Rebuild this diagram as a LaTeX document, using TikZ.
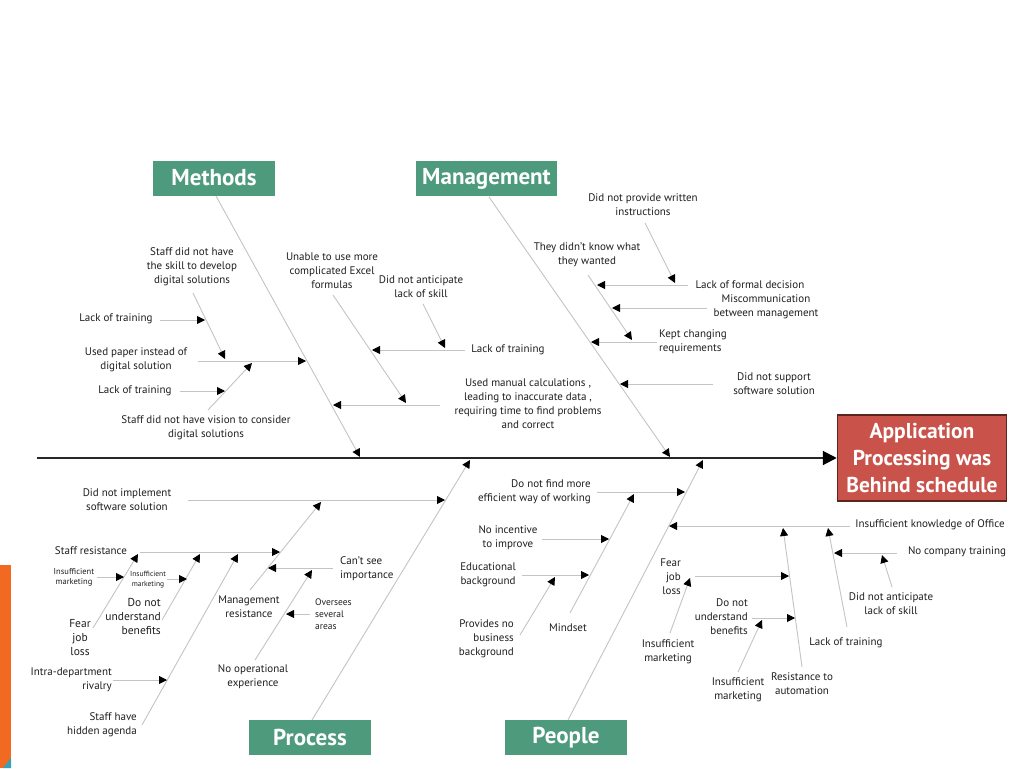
\documentclass[tikz,border=0pt]{standalone}
\usepackage{fontspec}
\setmainfont{PT Sans}
\usetikzlibrary{arrows.meta}
\definecolor{catgreen}{HTML}{4E9A7C}
\definecolor{effred}{HTML}{C9524A}
\definecolor{effborder}{HTML}{5A2420}
\definecolor{barorange}{HTML}{F26A21}
\definecolor{barteal}{HTML}{3AA0B5}
\definecolor{bonegray}{HTML}{C4C4C4}
\begin{document}
\begin{tikzpicture}[x=1pt,y=-1pt,
  lbl/.style={font=\fontsize{11}{14}\selectfont, align=center, inner sep=0pt, text=black!88},
  big/.style={font=\fontsize{11.5}{14}\selectfont, inner sep=0pt, text=black!88},
  small/.style={font=\fontsize{9.5}{12}\selectfont, inner sep=0pt, text=black!88},
  tinyA/.style={font=\fontsize{8.5}{10}\selectfont, align=center, inner sep=0pt, text=black!88},
  tinyB/.style={font=\fontsize{7.5}{10}\selectfont, align=center, inner sep=0pt, text=black!88},
  cat/.style={fill=catgreen, text=white, font=\fontsize{23}{26}\selectfont\bfseries, minimum height=35pt, inner sep=0pt},
  effect/.style={fill=effred, draw=effborder, line width=1.5pt, text=white, font=\fontsize{21.5}{26.5}\selectfont\bfseries, align=center, minimum width=169pt, minimum height=86pt, inner sep=0pt},
  bone/.style={draw=bonegray, line width=0.9pt, -{Triangle[length=8pt,width=8pt,color=black]}},
  spine/.style={draw=black!85, line width=2pt, -{Triangle[length=14pt,width=14pt,color=black]}}
]
\useasboundingbox (0,0) rectangle (1024,768);
\fill[white] (0,0) rectangle (1024,768);
\fill[barorange] (0,565) rectangle (11,768);
\fill[barteal] (3,768) -- (11,768) -- (11,758) -- cycle;

% ---------- effect and spine ----------
\node[effect] (eff) at (922,458) {Application\\Processing was\\Behind schedule};
\coordinate (sp0) at (37,458);
\draw[spine] (sp0) -- (eff.west);

% ---------- category boxes ----------
\node[cat, minimum width=122pt] (meth) at (214,178) {Methods};
\node[cat, minimum width=141pt] (mgmt) at (486.5,178.5) {Management};
\node[cat, minimum width=122pt] (proc) at (310,737.5) {Process};
\node[cat, minimum width=122pt] (peop) at (566,737.5) {People};

% ---------- main bones ----------
\coordinate (mb0) at (216,196);   \coordinate (mb1) at (360,457);
\coordinate (gb0) at (489,197);   \coordinate (gb1) at (670,457);
\coordinate (pb0) at (312,720);   \coordinate (pb1) at (470,460);
\coordinate (eb0) at (568,720);   \coordinate (eb1) at (703,460);
\draw[bone] (mb0) -- (mb1);
\draw[bone] (gb0) -- (gb1);
\draw[bone] (pb0) -- (pb1);
\draw[bone] (eb0) -- (eb1);

% ---------- Methods texts ----------
\node[lbl] (t_skill) at (192,267) {Staff did not have\\the skill to develop\\digital solutions};
\node[lbl] (t_lt1) at (116,319) {Lack of training};
\node[lbl] (t_paper) at (136,360) {Used paper instead of\\digital solution};
\node[lbl] (t_lt2) at (135,391) {Lack of training};
\node[lbl] (t_vision) at (206,428) {Staff did not have vision to consider\\digital solutions};
\node[lbl] (t_excel) at (332,271) {Unable to use more\\complicated Excel\\formulas};
\node[lbl] (t_dna1) at (421,287) {Did not anticipate\\lack of skill};
\node[lbl] (t_lt3) at (508,350) {Lack of training};
\node[lbl] (t_manual) at (528,404) {Used manual calculations ,\\leading to inaccurate data ,\\requiring time to find problems\\and correct};

% Methods connectors
\coordinate (m1s) at (198,361); \coordinate (m1e) at (306,361);
\coordinate (m2s) at (193,293); \coordinate (m2e) at (225,359);
\coordinate (m3s) at (160,320); \coordinate (m3e) at (205,320);
\coordinate (m4s) at (208,410); \coordinate (m4e) at (252,363);
\coordinate (m5s) at (180,391); \coordinate (m5e) at (225,391);
\coordinate (m6s) at (333,295); \coordinate (m6e) at (406,403);
\coordinate (m7s) at (423,304); \coordinate (m7e) at (445,348);
\coordinate (m8s) at (465,350); \coordinate (m8e) at (372,350);
\coordinate (m9s) at (440,405); \coordinate (m9e) at (333,405);
\foreach \i in {1,...,9} {\draw[bone] (m\i s) -- (m\i e);}

% ---------- Management texts ----------
\node[lbl] (t_written) at (643,205) {Did not provide written\\instructions};
\node[lbl] (t_know) at (587,255) {They didn't know what\\they wanted};
\node[lbl] (t_formal) at (750,285) {Lack of formal decision};
\node[lbl] (t_miscom) at (766,307) {Miscommunication\\between management};
\node[lbl, align=left, anchor=west] (t_kept) at (659,342) {Kept changing\\requirements};
\node[lbl] (t_support) at (774,384) {Did not support\\software solution};

% Management connectors
\coordinate (g1s) at (657,342); \coordinate (g1e) at (591,342);
\coordinate (g2s) at (588,275); \coordinate (g2e) at (632,340);
\coordinate (g3s) at (688,285); \coordinate (g3e) at (597,285);
\coordinate (g4s) at (707,308); \coordinate (g4e) at (612,308);
\coordinate (g5s) at (645,223); \coordinate (g5e) at (675,283);
\coordinate (g6s) at (713,384); \coordinate (g6e) at (620,384);
\foreach \i in {1,...,6} {\draw[bone] (g\i s) -- (g\i e);}

% ---------- Process texts ----------
\node[lbl] (t_implement) at (127,500) {Did not implement\\software solution};
\node[lbl] (t_staffres) at (91,551) {Staff resistance};
\node[tinyA] (t_im1) at (74,577) {Insufficient\\marketing};
\node[tinyB] (t_im2) at (148,580) {Insufficient\\marketing};
\node[big, align=center] (t_fear1) at (80,638) {Fear\\job\\loss};
\node[big, align=right, anchor=east] (t_dnu1) at (161,616) {Do not\\understand\\benefits};
\node[lbl, align=right, anchor=east] (t_rivalry) at (112,680) {Intra-department\\rivalry};
\node[lbl, align=right, anchor=east] (t_agenda) at (137,725) {Staff have\\hidden agenda};
\node[lbl] (t_mgmtres) at (249,607) {Management\\resistance};
\node[lbl, align=left, anchor=west] (t_cantsee) at (340,569) {Can't see\\importance};
\node[small, align=left, anchor=west] (t_oversees) at (315,614) {Oversees\\several\\areas};
\node[lbl] (t_noop) at (253,677) {No operational\\experience};

% Process connectors
\coordinate (p1s) at (188,500);  \coordinate (p1e) at (445,500);
\coordinate (p2s) at (250,590);  \coordinate (p2e) at (321,502);
\coordinate (p3s) at (140,552);  \coordinate (p3e) at (280,552);
\coordinate (p4s) at (93,628);   \coordinate (p4e) at (138,554);
\coordinate (p5s) at (97,577);   \coordinate (p5e) at (124,577);
\coordinate (p6s) at (162,620);  \coordinate (p6e) at (200,554);
\coordinate (p7s) at (167,579);  \coordinate (p7e) at (187,579);
\coordinate (p8s) at (142,725);  \coordinate (p8e) at (238,554);
\coordinate (p9s) at (113,680);  \coordinate (p9e) at (167,680);
\coordinate (p10s) at (333,568); \coordinate (p10e) at (268,568);
\coordinate (p11s) at (255,660); \coordinate (p11e) at (312,570);
\coordinate (p12s) at (310,614); \coordinate (p12e) at (286,614);
\foreach \i in {1,...,12} {\draw[bone] (p\i s) -- (p\i e);}

% ---------- People texts ----------
\node[lbl, align=right, anchor=east] (t_efficient) at (591,492) {Do not find more\\efficient way of working};
\node[lbl] (t_incentive) at (508,538) {No incentive\\to improve};
\node[lbl] (t_edu) at (488,575) {Educational\\background};
\node[lbl, align=right, anchor=east] (t_nobiz) at (514,639) {Provides no\\business\\background};
\node[lbl] (t_mindset) at (568,628) {Mindset};
\node[lbl] (t_office) at (930,525) {Insufficient knowledge of Office};
\node[lbl] (t_nocomp) at (957,552) {No company training};
\node[lbl] (t_dna2) at (891,604) {Did not anticipate\\lack of skill};
\node[lbl] (t_lt4) at (846,643) {Lack of training};
\node[lbl] (t_resist) at (802,684) {Resistance to\\automation};
\node[lbl, align=right, anchor=east] (t_fear2) at (681,577) {Fear\\job\\loss};
\node[lbl] (t_im3) at (668,652) {Insufficient\\marketing};
\node[lbl, align=right, anchor=east] (t_dnu2) at (748,617) {Do not\\understand\\benefits};
\node[lbl] (t_im4) at (738,690) {Insufficient\\marketing};

% People connectors
\coordinate (e1s) at (597,492);  \coordinate (e1e) at (685,492);
\coordinate (e2s) at (570,613);  \coordinate (e2e) at (634,494);
\coordinate (e3s) at (542,539);  \coordinate (e3e) at (609,539);
\coordinate (e4s) at (522,575);  \coordinate (e4e) at (589,575);
\coordinate (e5s) at (520,635);  \coordinate (e5e) at (555,577);
\coordinate (e6s) at (850,526);  \coordinate (e6e) at (669,526);
\coordinate (e7s) at (802,667);  \coordinate (e7e) at (783,528);
\coordinate (e8s) at (695,576);  \coordinate (e8e) at (789,576);
\coordinate (e9s) at (670,633);  \coordinate (e9e) at (690,578);
\coordinate (e10s) at (752,618); \coordinate (e10e) at (795,618);
\coordinate (e11s) at (738,672); \coordinate (e11e) at (762,620);
\coordinate (e12s) at (847,627); \coordinate (e12e) at (828,528);
\coordinate (e13s) at (897,553); \coordinate (e13e) at (834,553);
\coordinate (e14s) at (892,587); \coordinate (e14e) at (882,555);
\foreach \i in {1,...,14} {\draw[bone] (e\i s) -- (e\i e);}
\end{tikzpicture}
\end{document}
